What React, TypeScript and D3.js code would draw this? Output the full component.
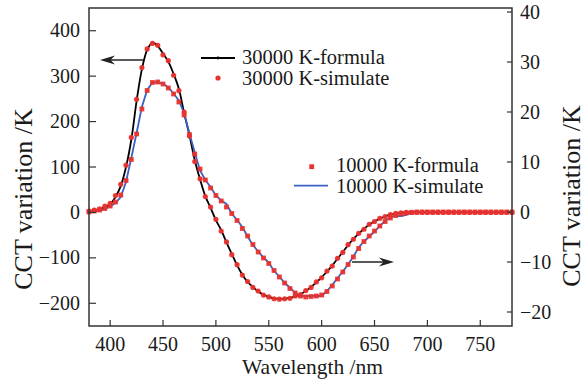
import React from 'react';
import * as d3 from 'd3';

const wavelengths: number[] = d3.range(380, 781, 5);

const formula30000: number[] = [2, 4, 7, 12, 18, 34, 58, 100, 160, 245, 315, 358, 374, 366, 350, 332, 305, 272, 218, 170, 115, 73, 36, 10, -17, -39, -66, -91, -116, -137, -153, -164, -174, -181, -186, -189, -190, -190, -188, -185, -180, -173, -164, -154, -143, -130, -117, -102, -87, -72, -58, -47, -36, -27, -20, -14, -9, -5, -2, -1, 0,
  0, 0, 0, 0, 0, 0, 0, 0, 0, 0, 0, 0, 0, 0, 0, 0, 0, 0, 0, 0];

const simulate30000: number[] = [3, 5, 8, 14, 20, 37, 62, 104, 165, 249, 319, 360, 372, 368, 347, 334, 302, 268, 221, 168, 112, 74, 35, 12, -15, -41, -65, -93, -115, -138, -152, -165, -173, -182, -186, -190, -191, -190, -189, -184, -181, -172, -165, -153, -144, -129, -118, -101, -88, -71, -59, -46, -37, -26, -20, -13, -9, -5, -2, -1, 0,
  0, 0, 0, 0, 0, 0, 0, 0, 0, 0, 0, 0, 0, 0, 0, 0, 0, 0, 0, 0];

const formula10000: number[] = [0, 0.2, 0.4, 0.7, 1.2, 2.0, 3.4, 6.3, 10.5, 15.6, 20.6, 24.3, 25.9, 26.0, 25.6, 24.8, 23.6, 22.0, 19.4, 15.5, 11.6, 8.6, 6.4, 4.8, 3.3, 2.2, 1.0, -0.3, -1.7, -3.3, -4.8, -6.5, -8.0, -9.2, -10.3, -11.7, -13.0, -14.2, -15.3, -16.2, -16.8, -17.0, -16.9, -16.8, -16.6, -15.9, -14.8, -13.4, -12.0, -10.5, -9.0, -7.3, -5.9, -4.8, -3.8, -2.8, -1.9, -1.2, -0.7, -0.4, -0.2, -0.1,
  0, 0, 0, 0, 0, 0, 0, 0, 0, 0, 0, 0, 0, 0, 0, 0, 0, 0, 0];

const simulate10000: number[] = [0, 0.1, 0.3, 0.6, 1.1, 1.8, 3.0, 6.0, 10.8, 15.8, 21.0, 24.4, 25.9, 25.9, 25.7, 24.9, 23.7, 22.3, 19.7, 15.7, 11.9, 8.3, 6.4, 5.0, 3.3, 2.3, 1.6, -0.3, -1.6, -3.0, -4.9, -6.6, -7.9, -9.1, -10.1, -11.8, -12.9, -14.2, -15.1, -16.2, -16.8, -16.8, -16.8, -16.8, -16.8, -15.8, -14.6, -13.2, -11.9, -10.5, -8.9, -7.1, -5.9, -4.9, -3.9, -2.8, -1.8, -1.0, -0.8, -0.8, -0.6, 0,
  0, 0, 0, 0, 0, 0, 0, 0, 0, 0, 0, 0, 0, 0, 0, 0, 0, 0, 0];

const xTicks: number[] = [400, 450, 500, 550, 600, 650, 700, 750];
const leftTicks: number[] = [-200, -100, 0, 100, 200, 300, 400];
const rightTicks: number[] = [-20, -10, 0, 10, 20, 30, 40];

const legendLabels: string[] = ['30000 K-formula', '30000 K-simulate', '10000 K-formula', '10000 K-simulate'];

const W = 585;
const H = 383;
const M = { left: 89, right: 512, top: 8, bottom: 326 };
const FONT = '"Liberation Serif", "Times New Roman", serif';
const RED = '#e8322e';
const BLUE = '#3a62c4';
const AXIS = '#333';
const TXT = '#1a1a1a';

export default function App() {
  const x = d3.scaleLinear().domain([380, 780]).range([M.left, M.right]);
  const yL = d3.scaleLinear().domain([-250, 450]).range([M.bottom, M.top]);
  const yR = d3.scaleLinear().domain([-22.8, 40.8]).range([M.bottom, M.top]);

  const blackLine = d3.line<number>().x((_, i) => x(wavelengths[i])).y((d) => yL(d)).curve(d3.curveCatmullRom);
  const blueLine = d3.line<number>().x((_, i) => x(wavelengths[i])).y((d) => yR(d));

  const arrow = (x1: number, x2: number, y: number) => {
    const dir = Math.sign(x2 - x1);
    const L = 15, hw = 4.5, notch = 4.5;
    const head = `M${x2},${y} L${x2 - dir * L},${y - hw} L${x2 - dir * (L - notch)},${y} L${x2 - dir * L},${y + hw} Z`;
    return (
      <g>
        <line x1={x1} y1={y} x2={x2 - dir * 8} y2={y} stroke="#222" strokeWidth={1.3} />
        <path d={head} fill="#222" />
      </g>
    );
  };

  const fmt = (t: number) => (t < 0 ? '\u2212' + Math.abs(t) : String(t));

  return (
    <svg width={W} height={H} style={{ position: 'absolute', left: 0, top: 0, background: '#fff' }} fontFamily={FONT}>
      <rect x={0} y={0} width={W} height={H} fill="#fff" />
      {/* curves */}
      <path d={blackLine(formula30000) || ''} fill="none" stroke="#000" strokeWidth={1.8} />
      <path d={blueLine(simulate10000) || ''} fill="none" stroke={BLUE} strokeWidth={1.8} />
      {formula10000.map((d, i) => (
        <rect key={'s' + i} x={x(wavelengths[i]) - 2.4} y={yR(d) - 2.4} width={4.8} height={4.8} fill={RED} opacity={0.95} />
      ))}
      {simulate30000.map((d, i) => (
        <circle key={'c' + i} cx={x(wavelengths[i])} cy={yL(d)} r={2.6} fill={RED} opacity={0.95} />
      ))}

      {/* frame */}
      <rect x={M.left} y={M.top} width={M.right - M.left} height={M.bottom - M.top} fill="none" stroke={AXIS} strokeWidth={1.5} />

      {/* x ticks */}
      {xTicks.map((t) => (
        <g key={'x' + t}>
          <line x1={x(t)} x2={x(t)} y1={M.bottom} y2={M.bottom - 6} stroke={AXIS} strokeWidth={1.2} />
          <text x={x(t)} y={351} textAnchor="middle" fontSize={20} fill={TXT}>{t}</text>
        </g>
      ))}
      {/* left ticks */}
      {leftTicks.map((t) => (
        <g key={'l' + t}>
          <line x1={M.left} x2={M.left + 7} y1={yL(t)} y2={yL(t)} stroke={AXIS} strokeWidth={1.2} />
          <text x={80} y={yL(t)} dy="0.33em" textAnchor="end" fontSize={20} fill={TXT}>{fmt(t)}</text>
        </g>
      ))}
      {/* right ticks */}
      {rightTicks.map((t) => (
        <g key={'r' + t}>
          <line x1={M.right} x2={M.right - 5} y1={yR(t)} y2={yR(t)} stroke={AXIS} strokeWidth={1.2} />
          <text x={520} y={yR(t)} dy="0.33em" textAnchor="start" fontSize={20} fill={TXT}>{fmt(t)}</text>
        </g>
      ))}

      {/* axis labels */}
      <text x={312.5} y={374} textAnchor="middle" fontSize={21.5} fill={TXT}>Wavelength /nm</text>
      <text transform={`translate(32,199) rotate(-90)`} textAnchor="middle" fontSize={26} fill={TXT}>CCT variation /K</text>
      <text transform={`translate(580,196) rotate(-90)`} textAnchor="middle" fontSize={26} fill={TXT}>CCT variation /K</text>

      {/* legend */}
      <line x1={201} x2={235} y1={58} y2={58} stroke="#000" strokeWidth={1.8} />
      <circle cx={218} cy={58} r={1.4} fill="#000" />
      <text x={242} y={57.5} dy="0.33em" fontSize={20.5} fill={TXT}>{legendLabels[0]}</text>
      <circle cx={218} cy={78} r={2.6} fill={RED} />
      <text x={242} y={78.5} dy="0.33em" fontSize={20.5} fill={TXT}>{legendLabels[1]}</text>
      <rect x={311.7 - 2.4} y={166.7 - 2.4} width={4.8} height={4.8} fill={RED} />
      <text x={336} y={165.5} dy="0.33em" fontSize={20.5} fill={TXT}>{legendLabels[2]}</text>
      <line x1={294} x2={328} y1={185.7} y2={185.7} stroke={BLUE} strokeWidth={1.8} />
      <text x={336} y={186.5} dy="0.33em" fontSize={20.5} fill={TXT}>{legendLabels[3]}</text>

      {/* arrows */}
      {arrow(143, 100, 60)}
      {arrow(352, 394, 262)}
    </svg>
  );
}
